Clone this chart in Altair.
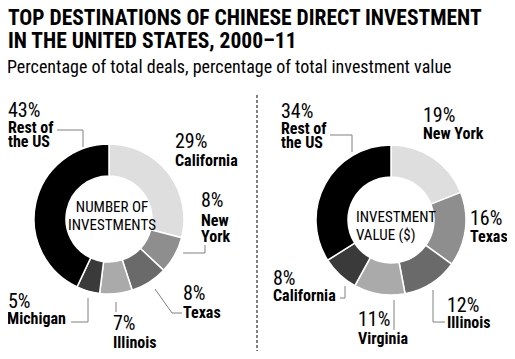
import altair as alt
import pandas as pd

# ---------------- data ----------------
left_names = ["California", "New York", "Texas", "Illinois", "Michigan", "Rest of the US"]
left_values = [29, 8, 8, 7, 5, 43]
right_names = ["New York", "Texas", "Illinois", "Virginia", "California", "Rest of the US"]
right_values = [19, 16, 12, 11, 8, 34]

title_lines = ["TOP DESTINATIONS OF CHINESE DIRECT INVESTMENT", "IN THE UNITED STATES, 2000\u201311"]
subtitle = "Percentage of total deals, percentage of total investment value"
left_center = ["NUMBER OF", "INVESTMENTS"]
right_center = ["INVESTMENT", "VALUE ($)"]

# ---------------- styles / layout ----------------
shades = ["#dedede", "#8e8e8e", "#6a6a6a", "#aaaaaa", "#3a3a3a", "#000000"]
FONT = "'Liberation Sans Narrow', 'Arial Narrow', 'Roboto Condensed', 'DejaVu Sans Condensed', sans-serif"
W, H = 499, 343
XS = alt.Scale(domain=[8, 8 + W], range=[0, W])
YS = alt.Scale(domain=[8, 8 + H], range=[0, H])
R_IN, R_OUT = 43, 75
centers = {"left": (109, 219), "right": (391, 220)}

# label anchors (page px): pct (x, baseline), name (x, baseline of each line)
label_pos = {
    "left": {
        "California": ((175, 148), (175, [166])),
        "New York": ((201, 207), (201, [226, 242])),
        "Texas": ((183, 300), (183, [318])),
        "Illinois": ((113, 330), (113, [348])),
        "Michigan": ((8, 308), (7, [324])),
        "Rest of the US": ((8, 117), (8, [133, 147])),
    },
    "right": {
        "New York": ((423, 122), (423, [139])),
        "Texas": ((470, 225), (470, [242])),
        "Illinois": ((447, 312), (447, [328])),
        "Virginia": ((358, 326), (358, [344])),
        "California": ((273, 285), (273, [301])),
        "Rest of the US": ((281, 118), (281, [134, 148])),
    },
}
name_lines = {
    "left": {"New York": ["New", "York"], "Rest of the US": ["Rest of", "the US"]},
    "right": {"Rest of the US": ["Rest of", "the US"]},
}
leaders = {
    "L-rest": [(57, 130), (83, 130), (83, 147)],
    "L-ny": [(183, 253), (205, 253), (205, 245)],
    "L-tx": [(155, 289), (172, 313), (182, 313)],
    "L-mi": [(71, 322), (88, 322), (88, 298)],
    "L-il": [(116, 302), (116, 312)],
    "R-rest": [(330, 135), (352, 135), (352, 152)],
    "R-ca": [(340, 298), (345, 298), (345, 286)],
    "R-va": [(394, 300), (394, 330)],
    "R-il": [(433, 290), (433, 322), (445, 322)],
}


def xq(f="x"):
    return alt.X(f + ":Q", scale=XS, axis=None)


def yq(f="y"):
    return alt.Y(f + ":Q", scale=YS, axis=None)


def donut(names, values, side):
    cx, cy = centers[side]
    df = pd.DataFrame({"name": names, "value": values, "idx": list(range(len(names)))})
    return alt.Chart(df).mark_arc(
        innerRadius=R_IN, outerRadius=R_OUT, stroke="white", strokeWidth=1.5
    ).encode(
        theta=alt.Theta("value:Q", stack=True, scale=alt.Scale(domain=[0, 100])),
        order=alt.Order("idx:Q"),
        color=alt.Color("idx:O", scale=alt.Scale(domain=list(range(6)), range=shades), legend=None),
        x=alt.value(cx - 8),
        y=alt.value(cy - 8),
    )


rows_pct, rows_name = [], []
for side, names, values in (("left", left_names, left_values), ("right", right_names, right_values)):
    for n, v in zip(names, values):
        (px, py), (nx, nys) = label_pos[side][n]
        rows_pct.append({"x": px, "y": py, "text": f"{v}%"})
        for line, ny in zip(name_lines[side].get(n, [n]), nys):
            rows_name.append({"x": nx, "y": ny, "text": line})

pct_layer = alt.Chart(pd.DataFrame(rows_pct)).mark_text(
    font=FONT, fontSize=20, align="left", baseline="alphabetic", color="black"
).encode(x=xq(), y=yq(), text="text:N")

name_layer = alt.Chart(pd.DataFrame(rows_name)).mark_text(
    font=FONT, fontSize=16, fontWeight="bold", align="left", baseline="alphabetic", color="black"
).encode(x=xq(), y=yq(), text="text:N")

lrows = []
for k, pts in leaders.items():
    for i, (a, b) in enumerate(pts):
        lrows.append({"id": k, "o": i, "x": a, "y": b})
leader_layer = alt.Chart(pd.DataFrame(lrows)).mark_line(color="#808080", strokeWidth=1).encode(
    x=xq(), y=yq(), detail="id:N", order="o:Q"
)

center_left = alt.Chart(pd.DataFrame({"x": [112, 112], "y": [212, 230], "text": left_center})).mark_text(
    font=FONT, fontSize=15, align="center", baseline="alphabetic", color="black"
).encode(x=xq(), y=yq(), text="text:N")
center_right = alt.Chart(pd.DataFrame({"x": [356, 356], "y": [222, 240], "text": right_center})).mark_text(
    font=FONT, fontSize=15, align="left", baseline="alphabetic", color="black"
).encode(x=xq(), y=yq(), text="text:N")

title_layer = alt.Chart(pd.DataFrame({"x": [8, 8], "y": [25, 48], "text": title_lines})).mark_text(
    font=FONT, fontSize=21.5, fontWeight="bold", align="left", baseline="alphabetic", color="black"
).encode(x=xq(), y=yq(), text="text:N")
subtitle_layer = alt.Chart(pd.DataFrame({"x": [7], "y": [73], "text": [subtitle]})).mark_text(
    font=FONT, fontSize=18, align="left", baseline="alphabetic", color="black"
).encode(x=xq(), y=yq(), text="text:N")

sep = alt.Chart(pd.DataFrame({"x": [257], "y": [95], "y2": [351]})).mark_rule(
    color="black", strokeDash=[3, 2], strokeWidth=1
).encode(x=xq(), y=yq(), y2="y2:Q")

chart = alt.layer(
    donut(left_names, left_values, "left"),
    donut(right_names, right_values, "right"),
    leader_layer, sep, pct_layer, name_layer, center_left, center_right,
    title_layer, subtitle_layer,
).properties(
    width=W, height=H, autosize=alt.AutoSizeParams(type="none"), padding=0
).configure_view(stroke=None)

chart.save("out.html", embed_options={"renderer": "svg", "actions": False})
